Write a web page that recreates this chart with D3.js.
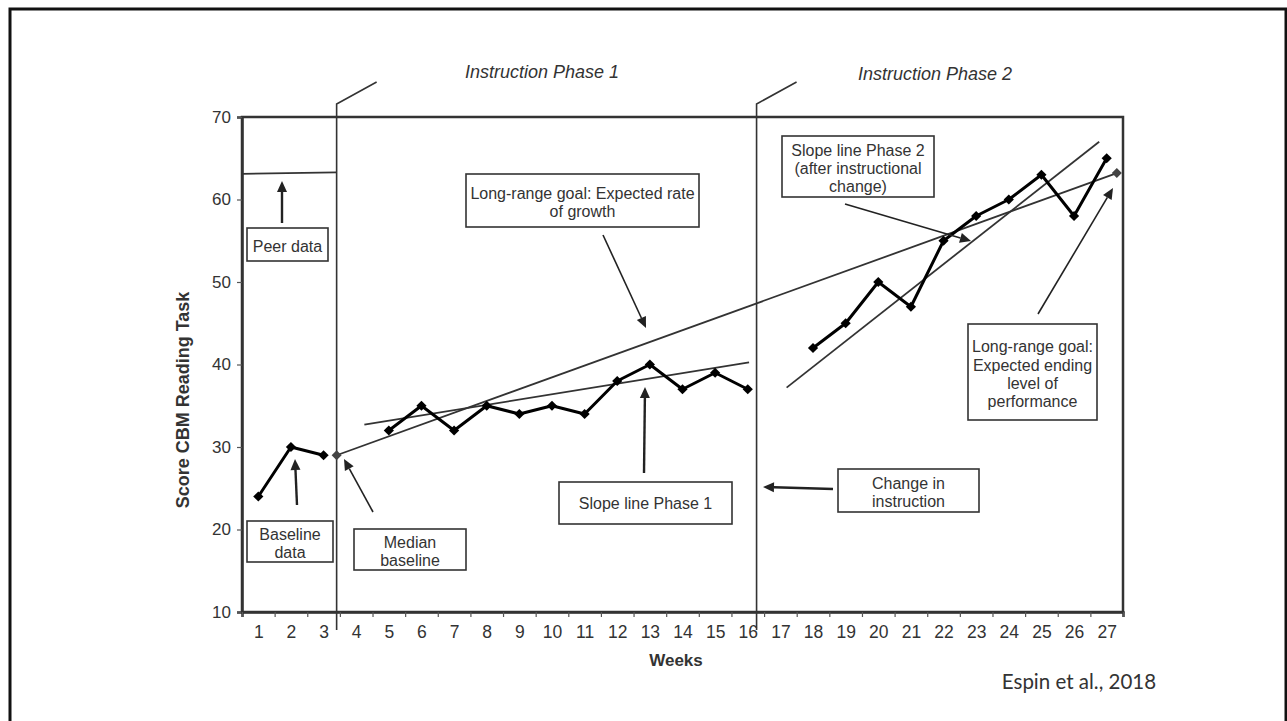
<!DOCTYPE html>
<html>
<head>
<meta charset="utf-8">
<script src="https://cdn.jsdelivr.net/npm/d3@7"></script>
<style>
  body { margin: 0; background: #fff; }
  svg { display: block; }
  text { font-family: "Liberation Sans", Arial, sans-serif; fill: #333; }
</style>
</head>
<body>
<div id="chart"></div>
<script>
// ---- data ----
const baselineWeeks = [1, 2, 3]
const baselineScores = [24, 30, 29]
const phase1Weeks = [5, 6, 7, 8, 9, 10, 11, 12, 13, 14, 15, 16]
const phase1Scores = [32, 35, 32, 35, 34, 35, 34, 38, 40, 37, 39, 37]
const phase2Weeks = [18, 19, 20, 21, 22, 23, 24, 25, 26, 27]
const phase2Scores = [42, 45, 50, 47, 55, 58, 60, 63, 58, 65]

const weekTicks = d3.range(1, 28)
const scoreTicks = [10, 20, 30, 40, 50, 60, 70]

const phaseChangeWeeks = [3.4, 16.27]
const phaseTitles = ["Instruction Phase 1", "Instruction Phase 2"]

const medianBaseline = [3.4, 29]
const goalEnd = [27.31, 63.2]
const peerLine = [[0.5, 63.1], [3.4, 63.3]]
const slopePhase1 = [[4.25, 32.7], [16.04, 40.27]]
const slopePhase2 = [[17.19, 37.2], [26.77, 67.0]]

// annotation boxes (layout only, in pixels)
const notes = [
  {box: [247, 228, 81, 33], lines: ["Peer data"], ty: 246, arrow: [282, 223, 282, 181], thick: true},
  {box: [466, 174, 233, 53], lines: ["Long-range goal: Expected rate", "of growth"], ty: 193.5, arrow: [603, 235, 646, 328], thick: false},
  {box: [782, 136, 152, 61], lines: ["Slope line Phase 2", "(after instructional", "change)"], ty: 150, arrow: [845, 204, 971, 241], thick: false},
  {box: [968, 324, 129, 96], lines: ["Long-range goal:", "Expected ending", "level of", "performance"], ty: 346.7, arrow: [1038, 314, 1113, 188], thick: false},
  {box: [838, 469, 141, 43], lines: ["Change in", "instruction"], ty: 483.5, arrow: [833, 489, 763, 487], thick: true},
  {box: [559, 482, 173, 42], lines: ["Slope line Phase 1"], ty: 503.5, arrow: [644, 473, 645, 387], thick: true},
  {box: [247, 521, 86, 41], lines: ["Baseline", "data"], ty: 534.5, arrow: [297, 505, 295, 459], thick: true},
  {box: [354, 529, 112, 41], lines: ["Median", "baseline"], ty: 542.5, arrow: [373, 512, 344, 459], thick: false}
]

// ---- layout ----
const W = 1287, H = 721
const plot = {left: 242, top: 117, right: 1123, bottom: 612}

const svg = d3.select("#chart").append("svg")
    .attr("width", W).attr("height", H)

// slide frame
svg.append("rect").attr("x", 10).attr("y", 9).attr("width", 1276).attr("height", 730)
    .attr("fill", "none").attr("stroke", "#111").attr("stroke-width", 3)

const x = d3.scaleLinear().domain([0.5, 27.5]).range([plot.left, plot.right])
const y = d3.scaleLinear().domain([10, 70]).range([plot.bottom, plot.top])

// plot box
svg.append("rect")
    .attr("x", plot.left).attr("y", plot.top)
    .attr("width", plot.right - plot.left).attr("height", plot.bottom - plot.top)
    .attr("fill", "none").attr("stroke", "#333").attr("stroke-width", 2.5)

// y axis
const yAxis = svg.append("g").attr("transform", `translate(${plot.left},0)`)
    .call(d3.axisLeft(y).tickValues(scoreTicks).tickSize(5).tickPadding(6))
yAxis.select(".domain").attr("stroke", "#333").attr("stroke-width", 2.5)
yAxis.selectAll(".tick line").attr("stroke", "#555").attr("stroke-width", 1.2)
yAxis.selectAll(".tick text").style("font-size", "17px").style("font-family", "Liberation Sans, Arial, sans-serif").attr("fill", "#333")

// x axis: ticks at week boundaries, labels at week centres
const xTickAxis = svg.append("g").attr("transform", `translate(0,${plot.bottom})`)
    .call(d3.axisBottom(x).tickValues(d3.range(0.5, 28, 1)).tickSize(5).tickFormat(""))
xTickAxis.select(".domain").attr("stroke", "#333").attr("stroke-width", 2.5)
xTickAxis.selectAll(".tick line").attr("stroke", "#555").attr("stroke-width", 1.2)

const xLabelAxis = svg.append("g").attr("transform", `translate(0,${plot.bottom})`)
    .call(d3.axisBottom(x).tickValues(weekTicks).tickSize(0).tickPadding(14))
xLabelAxis.select(".domain").remove()
xLabelAxis.selectAll(".tick text").style("font-size", "17.5px").style("font-family", "Liberation Sans, Arial, sans-serif").attr("fill", "#333")

// axis titles
svg.append("text").attr("x", 676).attr("y", 666).attr("text-anchor", "middle")
    .style("font-size", "17px").style("font-weight", "bold").text("Weeks")
svg.append("text").attr("transform", `translate(189,400) rotate(-90)`)
    .attr("text-anchor", "middle").style("font-size", "18px").style("font-weight", "bold")
    .text("Score CBM Reading Task")

// phase change lines with their titles
phaseChangeWeeks.forEach(function(w, i){
    let px = x(w)
    let path = d3.path()
    path.moveTo(px, plot.bottom + 18)
    path.lineTo(px, plot.top - 13)
    path.lineTo(px + 40, plot.top - 35)
    svg.append("path").attr("d", path.toString())
        .attr("fill", "none").attr("stroke", "#333").attr("stroke-width", 1.6)
})
svg.append("text").attr("x", 542).attr("y", 78).attr("text-anchor", "middle")
    .style("font-size", "18px").style("font-style", "italic").text(phaseTitles[0])
svg.append("text").attr("x", 935).attr("y", 80).attr("text-anchor", "middle")
    .style("font-size", "18px").style("font-style", "italic").text(phaseTitles[1])

// fitted / goal lines
const line = d3.line().x(d => x(d[0])).y(d => y(d[1]))
const guides = [peerLine, [medianBaseline, goalEnd], slopePhase1, slopePhase2]
svg.selectAll(".guide").data(guides).join("path")
    .attr("class", "guide")
    .attr("d", line)
    .attr("fill", "none").attr("stroke", "#333").attr("stroke-width", 1.8)

// data series
const series = [
    d3.zip(baselineWeeks, baselineScores),
    d3.zip(phase1Weeks, phase1Scores),
    d3.zip(phase2Weeks, phase2Scores)
]
svg.selectAll(".series").data(series).join("path")
    .attr("class", "series")
    .attr("d", line)
    .attr("fill", "none").attr("stroke", "#000").attr("stroke-width", 3)
    .attr("stroke-linejoin", "round")

const diamond = d3.symbol().type(d3.symbolSquare).size(52)
svg.selectAll(".pt").data(series.flat()).join("path")
    .attr("class", "pt")
    .attr("d", diamond)
    .attr("transform", d => `translate(${x(d[0])},${y(d[1])}) rotate(45)`)
    .attr("fill", "#000")

svg.selectAll(".goalpt").data([medianBaseline, goalEnd]).join("path")
    .attr("class", "goalpt")
    .attr("d", d3.symbol().type(d3.symbolSquare).size(50))
    .attr("transform", d => `translate(${x(d[0])},${y(d[1])}) rotate(45)`)
    .attr("fill", "#444")

// annotations
function drawArrow(x1, y1, x2, y2, thick){
    let len = Math.hypot(x2 - x1, y2 - y1)
    let ux = (x2 - x1) / len, uy = (y2 - y1) / len
    let headLen = 11, headW = 5
    let bx = x2 - ux * headLen, by = y2 - uy * headLen
    svg.append("line").attr("x1", x1).attr("y1", y1).attr("x2", bx).attr("y2", by)
        .attr("stroke", "#222").attr("stroke-width", thick ? 2.4 : 1.6)
    svg.append("path")
        .attr("d", `M${x2},${y2}L${bx - uy * headW},${by + ux * headW}L${bx + uy * headW},${by - ux * headW}Z`)
        .attr("fill", "#222")
}

notes.forEach(function(n){
    let [bx, by, bw, bh] = n.box
    svg.append("rect").attr("x", bx).attr("y", by).attr("width", bw).attr("height", bh)
        .attr("fill", "#fff").attr("stroke", "#333").attr("stroke-width", 1.6)
    n.lines.forEach(function(t, i){
        svg.append("text").attr("x", bx + bw / 2).attr("y", n.ty + i * 18.3)
            .attr("dy", "0.35em").attr("text-anchor", "middle")
            .style("font-size", "16px").text(t)
    })
    drawArrow(n.arrow[0], n.arrow[1], n.arrow[2], n.arrow[3], n.thick)
})

// source
svg.append("text").attr("x", 1079).attr("y", 689).attr("text-anchor", "middle")
    .style("font-family", "Lato, 'Open Sans', sans-serif").style("font-size", "20.5px").attr("fill", "#111")
    .text("Espin et al., 2018")
</script>
</body>
</html>
